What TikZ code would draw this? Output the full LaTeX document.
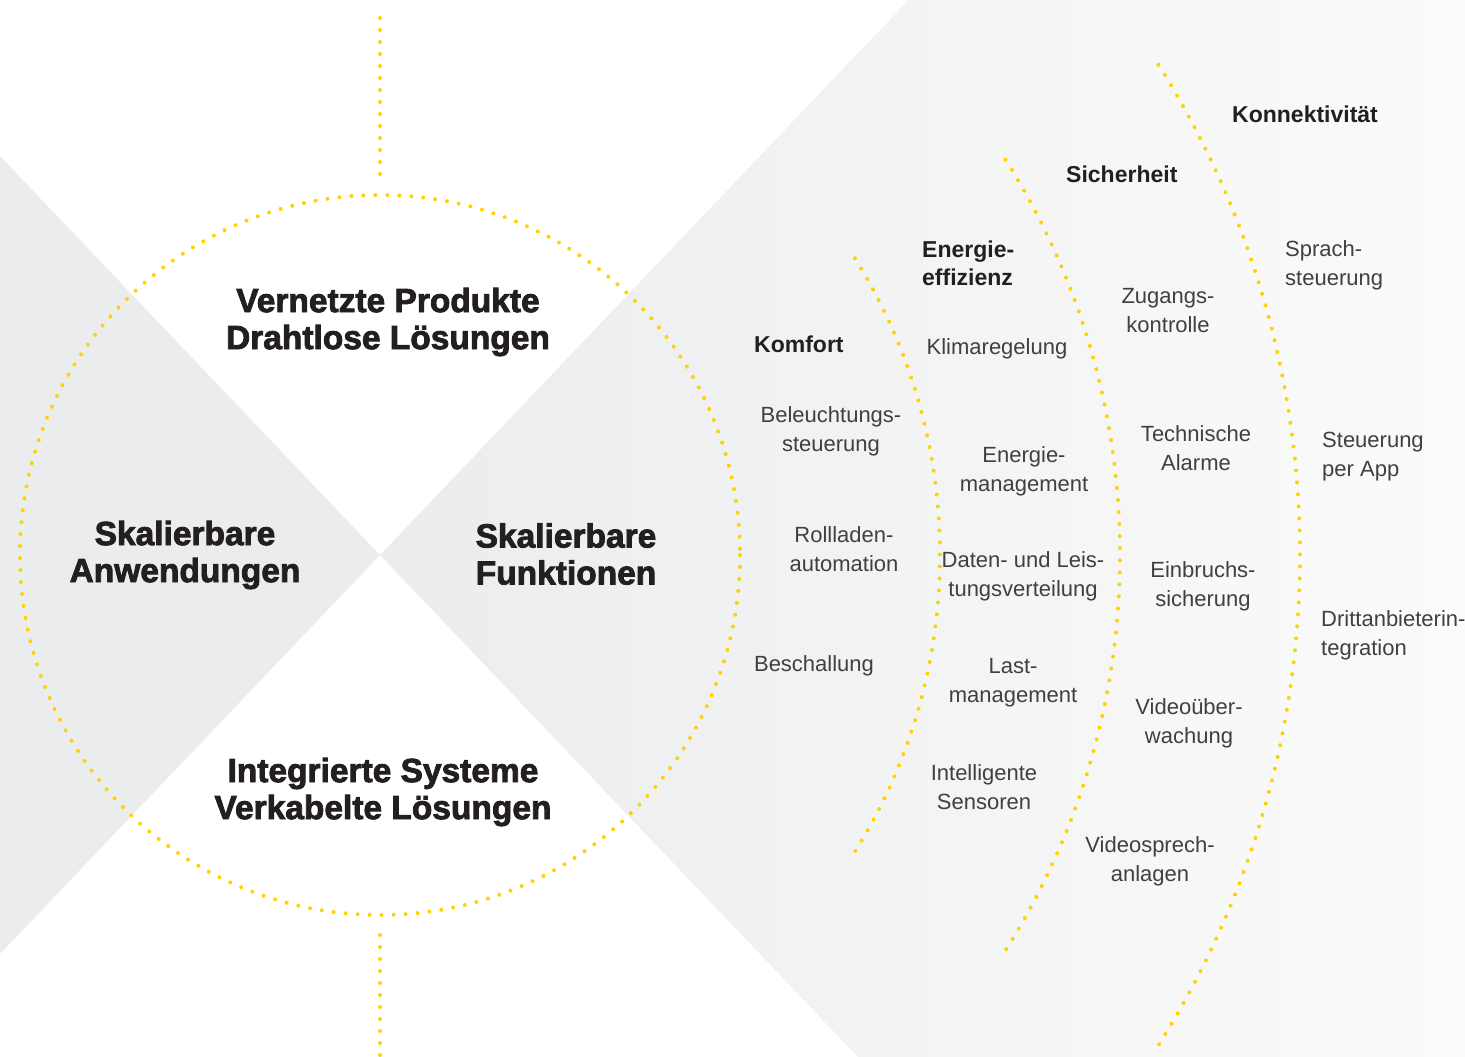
\documentclass[tikz,border=0pt]{standalone}
\usepackage{fontspec}
\setmainfont{Liberation Sans}
\newfontfamily\heavyfont{Liberation Sans}[BoldFeatures={FakeBold=2.4}]
\usepackage{tikz}
\usetikzlibrary{positioning}
\definecolor{dotYellow}{HTML}{FFD200}
\definecolor{bgGray}{HTML}{EBECEE}
\definecolor{bgLight}{HTML}{FBFBFB}
\definecolor{titleInk}{HTML}{231F20}
\definecolor{itemInk}{HTML}{404040}

\begin{document}
\begin{tikzpicture}[x=1pt,y=-1pt,inner sep=0pt,
  dotline/.style={dotYellow,line width=4pt,line cap=round,dash pattern=on 0pt off #1},
  dotline/.default=12pt,
  title/.style={font=\heavyfont\bfseries\fontsize{33.5}{37}\selectfont,text=titleInk,align=center},
  cat/.style={font=\bfseries\fontsize{23}{28}\selectfont,text=titleInk,align=left,anchor=west},
  item/.style={font=\fontsize{22}{29}\selectfont,text=itemInk,align=center}]
\useasboundingbox (0,0) rectangle (1465,1057);
\coordinate (ctr) at (380,555);
\coordinate (topEnd) at (380,18);
\coordinate (circTop) at (380,185);
\coordinate (circBottom) at (380,935);
\coordinate (bottomEnd) at (380,1057);

\shade[left color=bgGray,right color=bgLight]
(ctr) -- (908.6,0) -- (1465,0) -- (1465,1057) -- (858,1057) -- cycle;
\fill[bgGray] (0,156) -- (ctr) -- (0,954) -- cycle;

\draw[dotline] (ctr) circle[radius=360];
\draw[dotline] (topEnd) -- (circTop);
\draw[dotline] (circBottom) -- (bottomEnd);
\draw[dotline=12.01pt] (ctr) ++(-32:560) arc[start angle=-32,end angle=32,radius=560];
\draw[dotline=12.07pt] (ctr) ++(-32.3:740) arc[start angle=-32.3,end angle=32.3,radius=740];
\draw[dotline=12.01pt] (ctr) ++(-32.2:920) arc[start angle=-32.2,end angle=32.2,radius=920];

\node (vernetzt) [title] at (388,322) {Vernetzte Produkte\\Drahtlose Lösungen};
\node (anwendungen) [title] at (185,555) {Skalierbare\\Anwendungen};
\node (funktionen) [title] at (566,554) {Skalierbare\\Funktionen};
\node (integriert) [title] at (383,792) {Integrierte Systeme\\Verkabelte Lösungen};

\node (komfort) [cat] at (754,344) {Komfort};
\node (energieEff) [cat] at (922,263) {Energie-\\effizienz};
\node (sicherheit) [cat] at (1066,174) {Sicherheit};
\node (konnekt) [cat] at (1232,114) {Konnektivität};

\node (beleuchtung) [item] at (831,431) {Beleuchtungs-\\steuerung};
\node (rollladen) [item, below of=beleuchtung, node distance=118pt, xshift=13pt]
{Rollladen-\\automation};
\node (beschallung) [item] at (814,666) {Beschallung};

\node (klima) [item] at (997,349) {Klimaregelung};
\node (energieMgmt) [item] at (1024,471) {Energie-\\management};
\node (datenLeis) [item, below of=energieMgmt, node distance=105pt, xshift=-1pt]
{Daten- und Leis-\\tungsverteilung};
\node (lastMgmt) [item, below of=datenLeis, node distance=107pt, xshift=-10pt]
{Last-\\management};
\node (sensoren) [item, below of=lastMgmt, node distance=104pt, xshift=-29pt]
{Intelligente\\Sensoren};

\node (zugang) [item] at (1168,311) {Zugangs-\\kontrolle};
\node (alarme) [item, below of=zugang, node distance=137pt, xshift=28pt]
{Technische\\Alarme};
\node (einbruch) [item, below of=alarme, node distance=138pt, xshift=7pt]
{Einbruchs-\\sicherung};
\node (videoUeb) [item, below of=einbruch, node distance=137pt, xshift=-14pt]
{Videoüber-\\wachung};
\node (sprechAnl) [item, below of=videoUeb, node distance=138pt, xshift=-39pt]
{Videosprech-\\anlagen};

\node (sprach) [item, align=left, anchor=west] at (1285,265) {Sprach-\\steuerung};
\node (perApp) [item, align=left, anchor=west] at (1322,457) {Steuerung\\per App};
\node (dritt) [item, align=left, anchor=west] at (1321,635) {Drittanbieterin-\\tegration};
\end{tikzpicture}
\end{document}
